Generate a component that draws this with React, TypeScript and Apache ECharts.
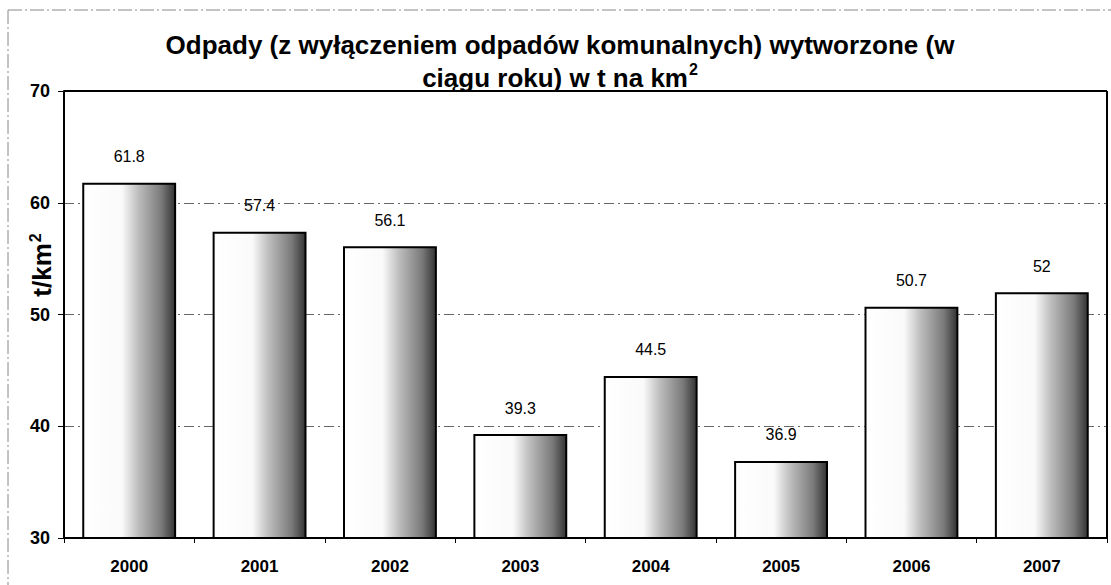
import React, { useEffect, useRef } from "react";
import * as echarts from "echarts";

const categories = ["2000", "2001", "2002", "2003", "2004", "2005", "2006", "2007"];
const values = [61.8, 57.4, 56.1, 39.3, 44.5, 36.9, 50.7, 52];
const yMin = 30;
const yMax = 70;
const yStep = 10;

export default function App() {
  const ref = useRef<HTMLDivElement>(null);
  useEffect(() => {
    document.body.style.margin = "0";
    const chart = echarts.init(ref.current!, null, { renderer: "svg" });
    const font = "Liberation Sans, Arial, sans-serif";
    chart.setOption({
      animation: false,
      backgroundColor: "#fff",
      title: {
        text: "Odpady (z wyłączeniem odpadów komunalnych) wytworzone (w\n{u|ciągu roku) w t na km}{sup|2}",
        left: 555,
        textAlign: "center",
        top: 23,
        textStyle: {
          fontFamily: font,
          fontSize: 26,
          fontWeight: "bold",
          color: "#000",
          lineHeight: 33,
          rich: {
            u: { fontFamily: font, fontSize: 26, fontWeight: "bold", color: "#000", lineHeight: 33 },
            sup: { fontFamily: font, fontSize: 16, fontWeight: "bold", color: "#000", verticalAlign: "top", padding: [0, 0, 14, 1], lineHeight: 33 },
          },
        },
      },
      grid: { left: 64, right: 4, top: 91, bottom: 47, containLabel: false, outerBoundsMode: "none" },
      xAxis: {
        type: "category",
        data: categories,
        axisLine: { lineStyle: { color: "#000", width: 2 } },
        axisTick: { show: true, length: 5, lineStyle: { color: "#000" } },
        axisLabel: { fontFamily: font, fontSize: 17, fontWeight: "bold", color: "#000", margin: 20 },
      },
      yAxis: {
        type: "value",
        min: yMin,
        max: yMax,
        interval: yStep,
        axisLine: { show: true, lineStyle: { color: "#000", width: 2 } },
        axisTick: { show: true, length: 6, lineStyle: { color: "#000" } },
        axisLabel: { fontFamily: font, fontSize: 18, fontWeight: "bold", color: "#000", margin: 14 },
        splitLine: { show: true, lineStyle: { color: "#666", width: 1, type: [10, 4, 2, 4] } },
      },
      series: [
        {
          type: "bar",
          data: values,
          barWidth: "72%",
          itemStyle: {
            color: new echarts.graphic.LinearGradient(0, 0, 1, 0, [
              { offset: 0, color: "#ffffff" },
              { offset: 0.42, color: "#fafafa" },
              { offset: 0.6, color: "#bdbdbd" },
              { offset: 0.85, color: "#7a7a7a" },
              { offset: 1, color: "#333333" },
            ]),
            borderColor: "#000",
            borderWidth: 2,
          },
          label: {
            show: true,
            position: "top",
            distance: 18,
            fontFamily: font,
            fontSize: 16,
            color: "#000",
          },
        },
      ],
      graphic: [
        { type: "line", z: 100, shape: { x1: 64, y1: 91, x2: 1107, y2: 91 }, style: { stroke: "#000", lineWidth: 2 } },
        { type: "line", z: 100, shape: { x1: 1107, y1: 91, x2: 1107, y2: 538 }, style: { stroke: "#000", lineWidth: 2 } },
        { type: "line", shape: { x1: 8, y1: 10, x2: 1111, y2: 10 }, style: { stroke: "#888", lineWidth: 1, lineDash: [14, 3, 2, 3] } },
        { type: "line", shape: { x1: 8, y1: 10, x2: 8, y2: 585 }, style: { stroke: "#888", lineWidth: 1, lineDash: [14, 3, 2, 3] } },
        {
          type: "text",
          x: 42,
          y: 265,
          rotation: Math.PI / 2,
          style: {
            text: "{a|t/km}{s|2}",
            align: "center",
            verticalAlign: "middle",
            rich: {
              a: { fontFamily: font, fontSize: 26, fontWeight: "bold", fill: "#000" },
              s: { fontFamily: font, fontSize: 16, fontWeight: "bold", fill: "#000", verticalAlign: "top", padding: [0, 0, 14, 1] },
            },
          },
        },
      ],
    });
    return () => chart.dispose();
  }, []);
  return <div ref={ref} style={{ position: "absolute", left: 0, top: 0, width: 1111, height: 585 }} />;
}
